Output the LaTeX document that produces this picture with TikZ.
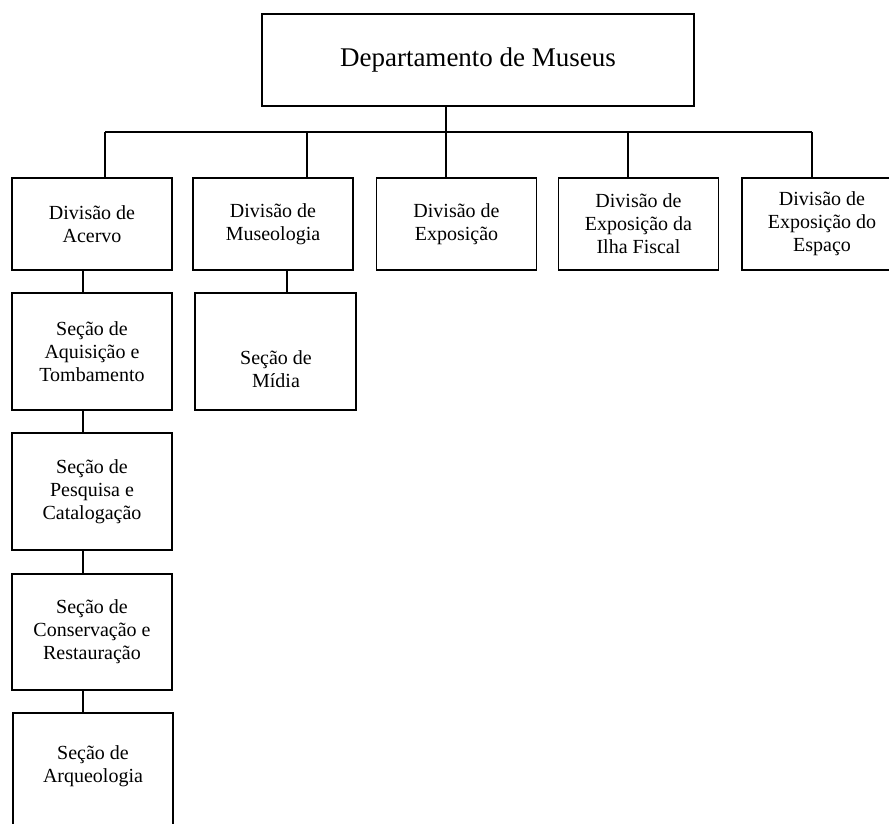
\documentclass[tikz,border=0pt]{standalone}
\usepackage{fontspec}
\setmainfont{Liberation Serif}
\begin{document}
\begin{tikzpicture}[x=1pt,y=-1pt,
  box/.style={draw,line width=1.6pt,inner sep=0pt,align=center,
    font=\fontsize{20}{23}\selectfont,minimum width=160pt,minimum height=92pt},
  secbox/.style={box,minimum height=117pt},
  lbl/.style={inner sep=0pt,align=center,font=\fontsize{20}{23}\selectfont},
  conn/.style={line width=1.6pt}]
\useasboundingbox (0,0) rectangle (889,824);
\clip (0,0) rectangle (889,824);

% top
\node[box,minimum width=432pt,minimum height=92pt,font=\fontsize{27}{31}\selectfont] (top) at (478,60) {Departamento de Museus};

% divisions
\node[box] (acervo) at (92,224) {Divisão de\\Acervo};
\node[box] (museo) at (273,224) {Divisão de\\Museologia};
\node[box] (expo) at (456.5,224) {Divisão de\\Exposição};
\node[box] (ilha) at (638.5,224) {Divisão de\\Exposição da\\Ilha Fiscal};
\node[box] (espaco) at (822,224) {Divisão de\\Exposição do\\Espaço};

% sections
\node[secbox] (aquis) at (92,351.5) {Seção de\\Aquisição e\\Tombamento};
\node[secbox] (pesq) at (92,491.5) {Seção de\\Pesquisa e\\Catalogação};
\node[secbox,minimum height=116pt] (conserv) at (92,632) {Seção de\\Conservação e\\Restauração};
\node[secbox] (arqueo) at (93,771.5) {};
\node[lbl] (arqueotxt) at (93,766) {Seção de\\Arqueologia};
\node[secbox,minimum width=161pt] (midia) at (275.5,351.5) {};
\node[lbl] (midiatxt) at (276,369) {Seção de\\Mídia};

% bus
\coordinate (bus0) at (446,132);
\coordinate (busL) at (105,132);
\coordinate (busM) at (307,132);
\coordinate (busI) at (628,132);
\coordinate (busR) at (812,132);
\draw[conn] (bus0 |- top.south) -- (bus0);
\draw[conn] (busL) -- (busR);
\draw[conn] (busL) -- (busL |- acervo.north);
\draw[conn] (busM) -- (busM |- museo.north);
\draw[conn] (bus0) -- (bus0 |- expo.north);
\draw[conn] (busI) -- (busI |- ilha.north);
\draw[conn] (busR) -- (busR |- espaco.north);

% section connectors
\coordinate (sx) at (83,0);
\coordinate (mx) at (287,0);
\draw[conn] (sx |- acervo.south) -- (sx |- aquis.north);
\draw[conn] (sx |- aquis.south) -- (sx |- pesq.north);
\draw[conn] (sx |- pesq.south) -- (sx |- conserv.north);
\draw[conn] (sx |- conserv.south) -- (sx |- arqueo.north);
\draw[conn] (mx |- museo.south) -- (mx |- midia.north);
\end{tikzpicture}
\end{document}
